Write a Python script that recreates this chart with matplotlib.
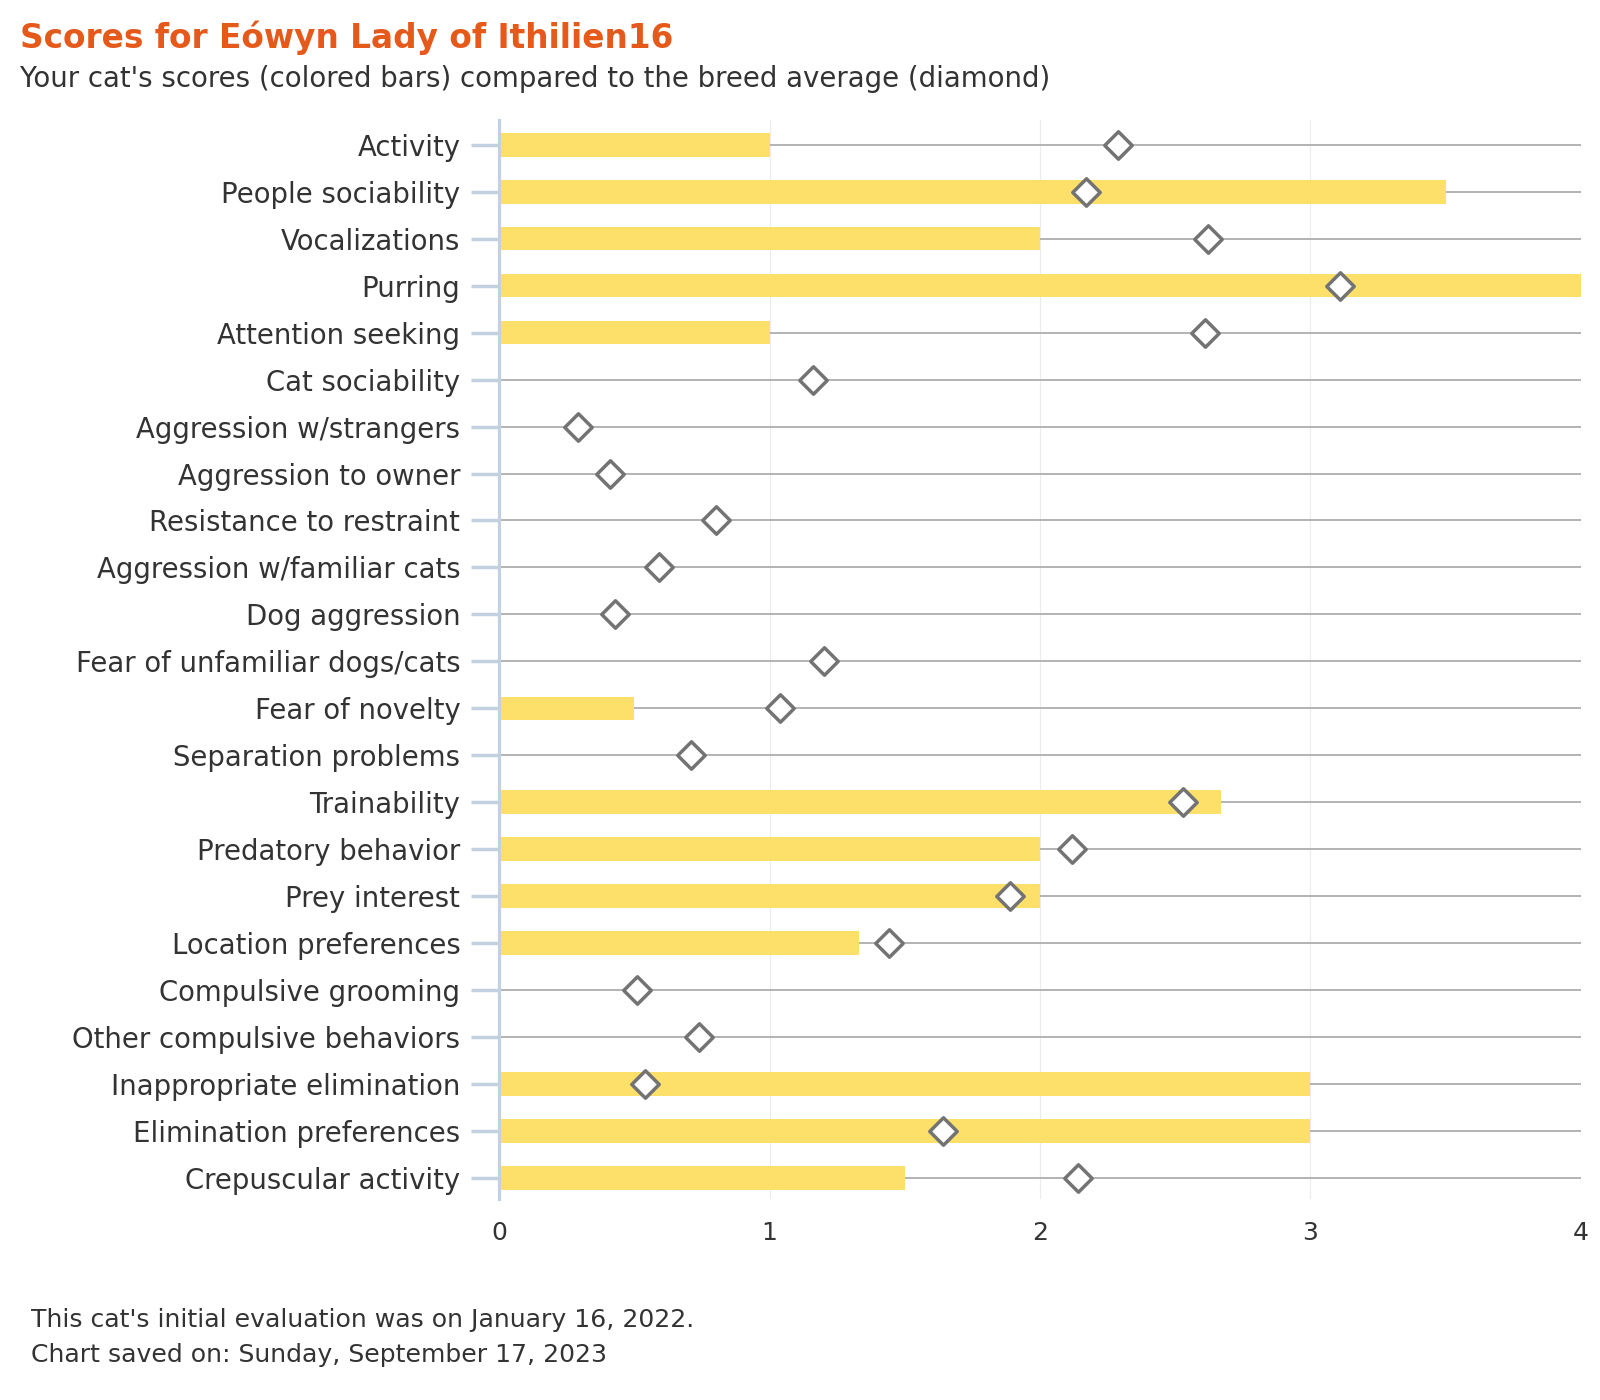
import matplotlib
matplotlib.use("Agg")
import matplotlib.pyplot as plt
import numpy as np

plt.rcParams['font.family'] = ['DejaVu Sans']

categories = ["Activity", "People sociability", "Vocalizations", "Purring",
              "Attention seeking", "Cat sociability", "Aggression w/strangers",
              "Aggression to owner", "Resistance to restraint",
              "Aggression w/familiar cats", "Dog aggression",
              "Fear of unfamiliar dogs/cats", "Fear of novelty",
              "Separation problems", "Trainability", "Predatory behavior",
              "Prey interest", "Location preferences", "Compulsive grooming",
              "Other compulsive behaviors", "Inappropriate elimination",
              "Elimination preferences", "Crepuscular activity"]
cat_scores = [1, 3.5, 2, 4, 1, 0, 0, 0, 0, 0, 0, 0, 0.5, 0, 2.67, 2, 2, 1.33,
              0, 0, 3, 3, 1.5]
breed_avg = [2.29, 2.17, 2.62, 3.11, 2.61, 1.16, 0.29, 0.41, 0.80, 0.59, 0.43,
             1.20, 1.04, 0.71, 2.53, 2.12, 1.89, 1.44, 0.51, 0.74, 0.54, 1.64,
             2.14]
x_ticks = [0, 1, 2, 3, 4]

fig = plt.figure(figsize=(16, 14), dpi=100)
ax = fig.add_axes([0.312, 0.1436, 0.676, 0.7704])

y = np.arange(len(categories))
ax.hlines(y, 0, 4, color="#b3b3b3", lw=1.4, zorder=1)
ax.barh(y, cat_scores, height=0.5, color="#fde06a", zorder=2)
ax.scatter(breed_avg, y, marker="D", s=195, facecolor="white",
           edgecolor="#737373", linewidths=2.5, zorder=3)

ax.set_xlim(0, 4)
ax.set_ylim(22.45, -0.52)
ax.set_xticks(x_ticks)
ax.set_xticklabels([str(t) for t in x_ticks])
ax.set_yticks(y)
ax.set_yticklabels(categories)
ax.grid(axis="x", color="#ececec", lw=0.8, zorder=0)
ax.set_axisbelow(True)
for s in ["top", "right", "bottom"]:
    ax.spines[s].set_visible(False)
ax.spines["left"].set_color("#c3d0e0")
ax.spines["left"].set_linewidth(2.3)
ax.spines["left"].set_zorder(4)
ax.tick_params(axis="y", length=20, width=2.5, color="#c3d0e0", pad=8,
               labelsize=19.8, labelcolor="#333333")
ax.tick_params(axis="x", length=0, pad=16, labelsize=18, labelcolor="#333333")

fig.text(20/1600, 1 - 38/1400, "Scores for Eówyn Lady of Ithilien16",
         fontsize=23.6, fontweight="bold", color="#e5591b", va="center", ha="left")
fig.text(20/1600, 1 - 79/1400,
         "Your cat's scores (colored bars) compared to the breed average (diamond)",
         fontsize=19.9, color="#333333", va="center", ha="left")
fig.text(31/1600, 1 - 1320/1400,
         "This cat's initial evaluation was on January 16, 2022.",
         fontsize=18.1, color="#333333", va="center", ha="left")
fig.text(31/1600, 1 - 1355/1400,
         "Chart saved on: Sunday, September 17, 2023",
         fontsize=18.1, color="#333333", va="center", ha="left")

fig.savefig("out.png", dpi=100, facecolor="white")
